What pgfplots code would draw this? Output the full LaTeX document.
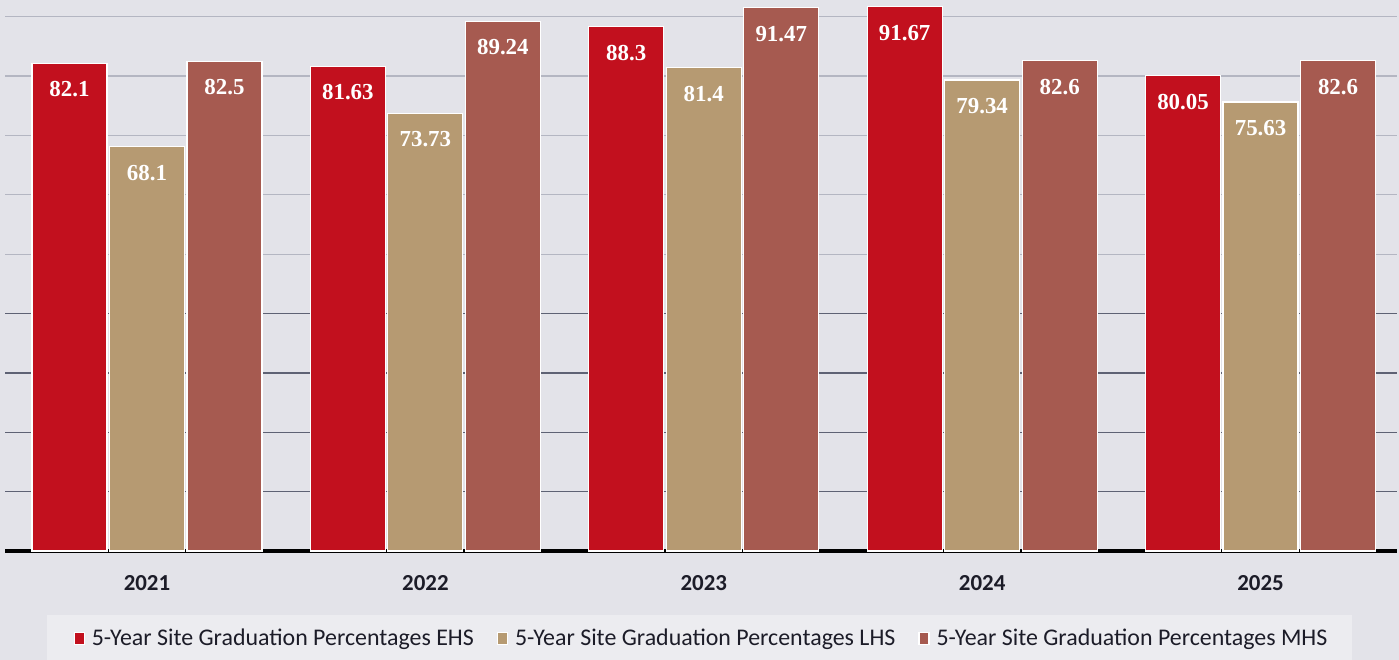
\documentclass[border=0pt]{standalone}
\usepackage{fontspec}
\setmainfont{Carlito}
\newfontfamily\valfont{Liberation Serif}
\usepackage{pgfplots}
\pgfplotsset{compat=1.18}
\definecolor{ehs}{HTML}{C2101E}
\definecolor{lhs}{HTML}{B69A72}
\definecolor{mhs}{HTML}{A65A50}
\definecolor{bg}{HTML}{E3E3E9}
\definecolor{legbg}{HTML}{ECECF0}
\definecolor{gridc}{HTML}{5E6274}
\definecolor{gridl}{HTML}{B4B6C2}
\definecolor{txt}{HTML}{1C1C28}
\begin{document}
\begin{tikzpicture}[x=1bp,y=1bp]
\fill[bg] (-5,-109) rectangle (1394,551);
\useasboundingbox (-5,-109) rectangle (1394,551);
\fill[legbg] (42,-109) rectangle (1347,-64);
\begin{axis}[
  at={(0,0)}, anchor=south west,
  scale only axis, width=1392bp, height=551bp,
  ybar=2.5bp, bar width=75bp,
  xmin=-0.51, xmax=4.49, ymin=0, ymax=92.8,
  axis lines*=left,
  y axis line style={draw=none},
  x axis line style={line width=4bp, black, -},
  xtick={0,1,2,3,4},
  xticklabels={2021,2022,2023,2024,2025},
  xtick style={draw=none},
  xticklabel style={anchor=center, yshift=-28bp, font=\bfseries\fontsize{23}{23}\selectfont, text=txt},
  ytick={10,20,30,40}, yticklabels={}, ytick style={draw=none},
  extra y ticks={50,60,70,80,90}, extra y tick labels={},
  extra y tick style={grid style={gridl, line width=1.2bp}, tick style={draw=none}},
  ymajorgrids, grid style={gridc, line width=1.4bp},
  /pgf/number format/assume math mode=true,
  nodes near coords,
  nodes near coords style={font=\valfont\bfseries\fontsize{23}{23}\selectfont, text=white, anchor=center, yshift=-26bp},
  every axis plot/.append style={draw=white, line width=1.2bp},
  legend columns=3,
  legend style={at={(0.5,-0.157)}, anchor=center, draw=none, fill=none,
    font=\fontsize{24}{24}\selectfont, text=txt,
    nodes={inner xsep=1bp},
    /tikz/every odd column/.append style={column sep=6bp},
    /tikz/every even column/.append style={column sep=22bp}},
  legend image code/.code={\fill[#1] (0bp,-7bp) rectangle (10bp,5bp);},
]
\addplot[fill=ehs] coordinates {(0,82.1) (1,81.63) (2,88.3) (3,91.67) (4,80.05)};
\addplot[fill=lhs] coordinates {(0,68.1) (1,73.73) (2,81.4) (3,79.34) (4,75.63)};
\addplot[fill=mhs] coordinates {(0,82.5) (1,89.24) (2,91.47) (3,82.6) (4,82.6)};
\legend{5-Year Site Graduation Percentages EHS, 5-Year Site Graduation Percentages LHS, 5-Year Site Graduation Percentages MHS}
\end{axis}
\end{tikzpicture}
\end{document}
